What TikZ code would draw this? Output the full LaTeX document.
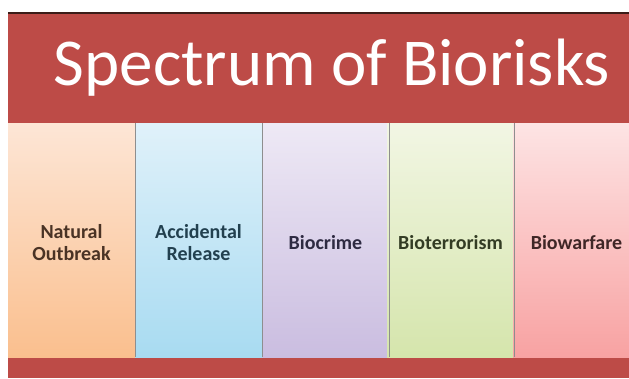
\documentclass[tikz,border=0pt]{standalone}
\usepackage{fontspec}
\setmainfont{Carlito}
\definecolor{band}{HTML}{BD4B47}
\definecolor{bandtop}{HTML}{3B1C18}
\definecolor{divider}{HTML}{8E8E8E}
\definecolor{natTop}{HTML}{FDE6D6}
\definecolor{natBot}{HTML}{FABF8E}
\definecolor{natInk}{HTML}{4A3325}
\definecolor{accTop}{HTML}{E0F1FA}
\definecolor{accBot}{HTML}{A8DBF1}
\definecolor{accInk}{HTML}{22404F}
\definecolor{crmTop}{HTML}{EEE9F5}
\definecolor{crmBot}{HTML}{CABDE0}
\definecolor{crmInk}{HTML}{2E2A42}
\definecolor{terTop}{HTML}{F2F6E4}
\definecolor{terBot}{HTML}{D5E5AC}
\definecolor{terInk}{HTML}{333C24}
\definecolor{warTop}{HTML}{FDE4E4}
\definecolor{warBot}{HTML}{F8A2A2}
\definecolor{warInk}{HTML}{3F2626}
\begin{document}
\begin{tikzpicture}[x=1pt,y=-1pt,
  heading/.style={text=white,font=\fontsize{67}{70}\selectfont},
  column/.style={minimum width=127pt,minimum height=234pt,inner sep=0pt},
  label/.style={align=center,font=\bfseries\fontsize{20}{22}\selectfont},
  rule/.style={divider,line width=1.3pt}]
\useasboundingbox (0,0) rectangle (629,378);
\clip (0,0) rectangle (629,378);
\fill[band] (8,12) rectangle (629,378);
\draw[bandtop,line width=1.6pt] (8,12.8) -- (629,12.8);
\node[heading] (title) at (332,68) {Spectrum of Biorisks};
% five columns of the spectrum, each with its label a little below the middle
\foreach \n/\x/\k/\t in {natural/8/nat/{Natural\\Outbreak},
    accidental/135/acc/{Accidental\\Release},
    biocrime/262/crm/Biocrime,
    bioterror/387/ter/Bioterrorism,
    biowar/513/war/Biowarfare}{
  \node[column,top color=\k Top,bottom color=\k Bot] (\n) at ({\x+63.5},240) {};
  \node[label,text=\k Ink] (\n-label) at ([yshift=-2.5pt]\n.center) {\t};
}
\foreach \n in {natural,accidental,biocrime,bioterror}
  \draw[rule] (\n.north east) -- (\n.south east);
\end{tikzpicture}
\end{document}
